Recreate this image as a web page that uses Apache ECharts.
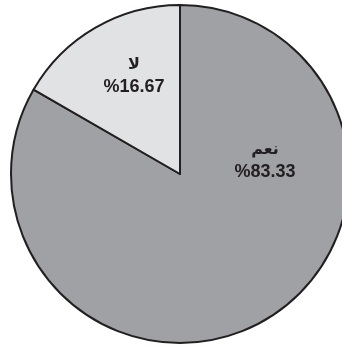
<!DOCTYPE html>
<html>
<head>
<meta charset="utf-8">
<script src="https://cdn.jsdelivr.net/npm/echarts@6/dist/echarts.min.js"></script>
<style>
html,body{margin:0;padding:0;background:#fff;}
#chart{width:342px;height:347px;}
</style>
</head>
<body>
<div id="chart"></div>
<script>
// Answer categories and their shares (%)
const categories = ['نعم', 'لا'];
const shares = [83.33, 16.67];
const sliceColors = ['#a0a1a4', '#e1e2e4'];

// Label anchor points for each slice (block centres)
const labelAnchors = [[265, 161], [134, 76]];

const chart = echarts.init(document.getElementById('chart'), null, {renderer: 'canvas'});

chart.setOption({
  backgroundColor: '#ffffff',
  animation: false,
  series: [{
    type: 'pie',
    center: [180, 174],
    radius: [0, 169],
    startAngle: 90,
    clockwise: true,
    silent: true,
    data: categories.map((name, i) => ({
      name: name,
      value: shares[i],
      itemStyle: {color: sliceColors[i]}
    })),
    itemStyle: {borderColor: '#231f20', borderWidth: 2},
    label: {
      show: true,
      position: 'inside',
      formatter: p => '{n|' + p.name + '}\n{v|%' + p.value.toFixed(2) + '}',
      rich: {
        n: {fontFamily: 'DejaVu Sans', fontWeight: 'bold', fontSize: 16, color: '#231f20', lineHeight: 23, align: 'center'},
        v: {fontFamily: 'Liberation Sans', fontWeight: 'bold', fontSize: 18, color: '#231f20', lineHeight: 22, align: 'center'}
      }
    },
    labelLine: {show: false},
    labelLayout: params => ({
      x: labelAnchors[params.dataIndex][0],
      y: labelAnchors[params.dataIndex][1],
      align: 'center',
      verticalAlign: 'middle'
    })
  }]
});
</script>
</body>
</html>
